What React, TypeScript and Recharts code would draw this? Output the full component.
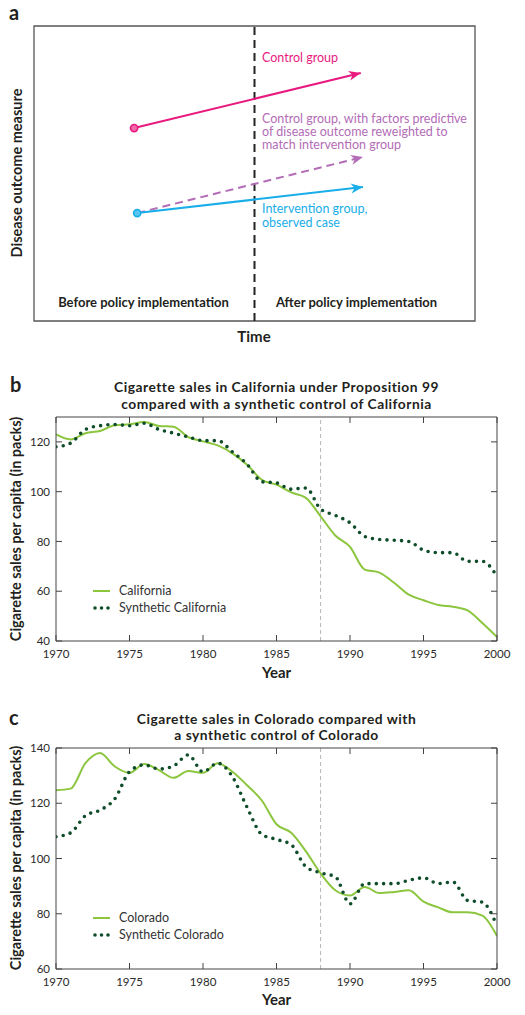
import React from 'react';
import { LineChart, Line, XAxis, YAxis, ReferenceLine, ReferenceArea, Legend } from 'recharts';

const FONT = "Lato, 'Open Sans', sans-serif";

// ---------- Panel a: schematic ----------
const schematicControl = [
  { t: 22.7, v: 65.4 },
  { t: 74.1, v: 84.1 },
];
const schematicReweighted = [
  { t: 23.4, v: 36.6 },
  { t: 74.6, v: 55.6 },
];
const schematicIntervention = [
  { t: 23.4, v: 36.6 },
  { t: 74.6, v: 45.4 },
];
const policyTime = 50;

// ---------- Panels b and c ----------
const years = [
  1970, 1971, 1972, 1973, 1974, 1975, 1976, 1977, 1978, 1979, 1980, 1981, 1982, 1983, 1984, 1985,
  1986, 1987, 1988, 1989, 1990, 1991, 1992, 1993, 1994, 1995, 1996, 1997, 1998, 1999, 2000,
];
const california = [
  123, 121, 123.5, 124.4, 126.7, 127.1, 128, 126.4, 126.1, 121.9, 120.2, 118.6, 115.4, 110.8, 104.8,
  102.8, 99.7, 97.5, 90.1, 82.4, 77.8, 68.7, 67.5, 63.4, 58.6, 56.4, 54.5, 53.8, 52.3, 47.2, 41.6,
];
const syntheticCalifornia = [
  118, 119.5, 125, 126.5, 127, 126.5, 127.5, 125, 123.5, 122, 120.5, 120.5, 116, 111, 104, 103.5,
  101, 101.5, 93, 90.5, 87.5, 82, 80.8, 80.5, 80, 76.5, 75.5, 75.5, 72, 72, 66,
];
const colorado = [
  124.7, 125.3, 134.5, 138.2, 133.3, 131, 134.2, 132, 129.2, 131.7, 131, 134.5, 131.4, 126.5, 121,
  112.4, 109.3, 102.6, 94.6, 88.5, 86.6, 89.7, 87.5, 87.9, 88.5, 84.4, 82.3, 80.5, 80.5, 79.3, 71.9,
];
const syntheticColorado = [
  107.9, 109.3, 115.5, 117.5, 121.6, 131.4, 133.9, 132.4, 133.5, 137.5, 131.4, 134.5, 129.6, 118.5,
  108.7, 106.9, 105, 97, 94.8, 93.4, 83.6, 90.9, 90.9, 90.9, 92.1, 93, 90.9, 91.5, 84.8, 84.2, 75.6,
];
const yearTicks = [1970, 1975, 1980, 1985, 1990, 1995, 2000];
const californiaTicks = [40, 60, 80, 100, 120];
const coloradoTicks = [60, 80, 100, 120, 140];
const interventionYear = 1988;

const californiaData = years.map((year, i) => ({
  year,
  actual: california[i],
  synthetic: syntheticCalifornia[i],
}));
const coloradoData = years.map((year, i) => ({
  year,
  actual: colorado[i],
  synthetic: syntheticColorado[i],
}));

const PINK = '#e8197f';
const PURPLE = '#b36cb6';
const BLUE = '#19aee8';
const LIGHT_GREEN = '#8cc63e';
const DARK_GREEN = '#0f4d2a';
const AXIS = '#444';

function makeEndpoints(color: string, startFill: string | null) {
  const prevStore = { x: 0, y: 0 };
  return (props: any) => {
    const { cx, cy, index, points } = props;
    if (index === 0) {
      prevStore.x = cx;
      prevStore.y = cy;
      if (!startFill) return <g key={`s${index}`} />;
      return (
        <circle key={`s${index}`} cx={cx} cy={cy} r={3.6} fill={startFill} stroke={color} strokeWidth={1.6} />
      );
    }
    const prev = points && points[index - 1] ? points[index - 1] : prevStore;
    const ang = Math.atan2(cy - prev.y, cx - prev.x);
    const c = Math.cos(ang);
    const s = Math.sin(ang);
    const L = 12;
    const W = 5;
    const N = 3.5;
    const bx = cx - L * c;
    const by = cy - L * s;
    const p1 = `${cx},${cy}`;
    const p2 = `${bx - W * s},${by + W * c}`;
    const p3 = `${cx - (L - N) * c},${cy - (L - N) * s}`;
    const p4 = `${bx + W * s},${by - W * c}`;
    return <polygon key={`e${index}`} points={`${p1} ${p2} ${p3} ${p4}`} fill={color} stroke="none" />;
  };
}

function SchematicPanel() {
  return (
    <div style={{ position: 'absolute', left: 0, top: 0 }}>
      <LineChart width={525} height={350} margin={{ top: 26, right: 50, bottom: 29, left: 34 }}>
        <XAxis dataKey="t" type="number" domain={[0, 100]} hide allowDataOverflow />
        <YAxis dataKey="v" type="number" domain={[0, 100]} hide allowDataOverflow />
        <ReferenceArea x1={0} x2={100} y1={0} y2={100} fill="none" stroke="#555" strokeWidth={1.3} />
        <ReferenceLine x={policyTime} stroke="#222" strokeWidth={2} strokeDasharray="8 5" />
        <Line
          data={schematicControl}
          dataKey="v"
          stroke={PINK}
          strokeWidth={2}
          dot={makeEndpoints(PINK, '#f06aa8')}
          isAnimationActive={false}
        />
        <Line
          data={schematicReweighted}
          dataKey="v"
          stroke={PURPLE}
          strokeWidth={2}
          strokeDasharray="8 5"
          dot={makeEndpoints(PURPLE, null)}
          isAnimationActive={false}
        />
        <Line
          data={schematicIntervention}
          dataKey="v"
          stroke={BLUE}
          strokeWidth={2}
          dot={makeEndpoints(BLUE, '#55c6f0')}
          isAnimationActive={false}
        />
      </LineChart>
    </div>
  );
}

function renderLegend(props: any) {
  const { payload } = props;
  return (
    <div style={{ fontFamily: FONT }}>
      {(payload || []).map((entry: any, i: number) => {
        const dotted = entry.dataKey === 'synthetic';
        return (
          <div key={i} style={{ display: 'flex', alignItems: 'center', height: 17 }}>
            <svg width={26} height={10}>
              {dotted ? (
                <line x1={2} y1={5} x2={16} y2={5} stroke={DARK_GREEN} strokeWidth={3.6} strokeLinecap="round" strokeDasharray="0 6.5" />
              ) : (
                <line x1={0} y1={5} x2={17} y2={5} stroke={LIGHT_GREEN} strokeWidth={2} />
              )}
            </svg>
            <span style={{ fontSize: 12.5, color: '#333' }}>{entry.value}</span>
          </div>
        );
      })}
    </div>
  );
}

type SalesProps = {
  top: number;
  height: number;
  data: any[];
  domain: [number, number];
  yTicks: number[];
  actualName: string;
  syntheticName: string;
  marginTop: number;
  marginBottom: number;
  legendTop: number;
};

function SalesPanel(p: SalesProps) {
  const tickStyle = { fill: '#2a2a2a', fontSize: 11.5, fontFamily: FONT };
  return (
    <div style={{ position: 'absolute', left: 0, top: p.top }}>
      <LineChart
        width={525}
        height={p.height}
        data={p.data}
        margin={{ top: p.marginTop, right: 27, bottom: p.marginBottom, left: 26 }}
      >
        <XAxis
          dataKey="year"
          type="number"
          domain={[1970, 2000]}
          ticks={yearTicks}
          allowDataOverflow
          height={20}
          tickSize={-6}
          tickMargin={15}
          stroke={AXIS}
          tick={tickStyle}
        />
        <XAxis
          xAxisId="top"
          orientation="top"
          dataKey="year"
          type="number"
          domain={[1970, 2000]}
          ticks={yearTicks}
          allowDataOverflow
          height={1}
          tickSize={-6}
          tickFormatter={() => ''}
          stroke={AXIS}
        />
        <YAxis
          type="number"
          domain={p.domain}
          ticks={p.yTicks}
          allowDataOverflow
          width={30}
          tickSize={-6}
          tickMargin={12}
          stroke={AXIS}
          tick={tickStyle}
        />
        <YAxis
          yAxisId="right"
          orientation="right"
          type="number"
          domain={p.domain}
          ticks={p.yTicks}
          allowDataOverflow
          width={1}
          tickSize={-6}
          tickFormatter={() => ''}
          stroke={AXIS}
        />
        <ReferenceLine x={interventionYear} stroke="#b5b5b5" strokeDasharray="4 3" />
        <Line
          type="monotone"
          dataKey="actual"
          name={p.actualName}
          stroke={LIGHT_GREEN}
          strokeWidth={2}
          dot={false}
          isAnimationActive={false}
        />
        <Line
          type="monotone"
          dataKey="synthetic"
          name={p.syntheticName}
          stroke={DARK_GREEN}
          strokeWidth={3.6}
          strokeLinecap="round"
          strokeDasharray="0 7.3"
          dot={false}
          isAnimationActive={false}
        />
        <Legend
          layout="vertical"
          verticalAlign="middle"
          align="center"
          content={renderLegend}
          wrapperStyle={{ position: 'absolute', left: 93, top: p.legendTop, width: 200, height: 40 }}
        />
      </LineChart>
    </div>
  );
}

function Overlay() {
  const bold = { fontFamily: FONT, fontWeight: 700, fill: '#231f20' } as const;
  const reg = { fontFamily: FONT, fontSize: 12.5 } as const;
  const title = { ...bold, fontSize: 13.8, letterSpacing: 0.5 } as const;
  return (
    <svg width={525} height={1015} style={{ position: 'absolute', left: 0, top: 0, pointerEvents: 'none' }}>
      {/* panel a */}
      <text x={9} y={20} fontSize={20} {...bold}>a</text>
      <text x={262} y={61.5} fill={PINK} {...reg}>Control group</text>
      <text x={262} y={122.5} fill={PURPLE} {...reg}>Control group, with factors predictive</text>
      <text x={262} y={135.5} fill={PURPLE} {...reg}>of disease outcome reweighted to</text>
      <text x={262} y={148.5} fill={PURPLE} {...reg}>match intervention group</text>
      <text x={262} y={213.3} fill={BLUE} {...reg}>Intervention group,</text>
      <text x={262} y={226.6} fill={BLUE} {...reg}>observed case</text>
      <text x={143.5} y={307.3} fontSize={13} textAnchor="middle" {...bold}>Before policy implementation</text>
      <text x={356.5} y={307.3} fontSize={13} textAnchor="middle" {...bold}>After policy implementation</text>
      <text x={254} y={342.3} fontSize={15} textAnchor="middle" {...bold}>Time</text>
      <text transform="translate(21.7,173) rotate(-90)" fontSize={14.5} textAnchor="middle" {...bold}>
        Disease outcome measure
      </text>

      {/* panel b */}
      <text x={10} y={392} fontSize={20} {...bold}>b</text>
      <text x={276.5} y={392} textAnchor="middle" {...title}>
        Cigarette sales in California under Proposition 99
      </text>
      <text x={276.5} y={408.8} textAnchor="middle" {...title}>
        compared with a synthetic control of California
      </text>
      <text x={276.5} y={678.3} fontSize={15} textAnchor="middle" {...bold}>Year</text>
      <text transform="translate(20.5,529) rotate(-90)" fontSize={14.5} textAnchor="middle" {...bold}>
        Cigarette sales per capita (in packs)
      </text>

      {/* panel c */}
      <text x={9} y={725} fontSize={20} {...bold}>c</text>
      <text x={276.5} y={723.5} textAnchor="middle" {...title}>
        Cigarette sales in Colorado compared with
      </text>
      <text x={276.5} y={740.3} textAnchor="middle" {...title}>
        a synthetic control of Colorado
      </text>
      <text x={276.5} y={1005} fontSize={15} textAnchor="middle" {...bold}>Year</text>
      <text transform="translate(20.5,858) rotate(-90)" fontSize={14.5} textAnchor="middle" {...bold}>
        Cigarette sales per capita (in packs)
      </text>
    </svg>
  );
}

export default function App() {
  return (
    <div
      style={{
        position: 'absolute',
        left: 0,
        top: 0,
        width: 525,
        height: 1015,
        overflow: 'hidden',
        background: '#fff',
        fontFamily: FONT,
      }}
    >
      <SchematicPanel />
      <SalesPanel
        top={360}
        height={320}
        data={californiaData}
        domain={[40, 130]}
        yTicks={californiaTicks}
        actualName="California"
        syntheticName="Synthetic California"
        marginTop={56}
        marginBottom={19}
        legendTop={222}
      />
      <SalesPanel
        top={700}
        height={310}
        data={coloradoData}
        domain={[60, 140]}
        yTicks={coloradoTicks}
        actualName="Colorado"
        syntheticName="Synthetic Colorado"
        marginTop={47}
        marginBottom={21}
        legendTop={209}
      />
      <Overlay />
    </div>
  );
}
